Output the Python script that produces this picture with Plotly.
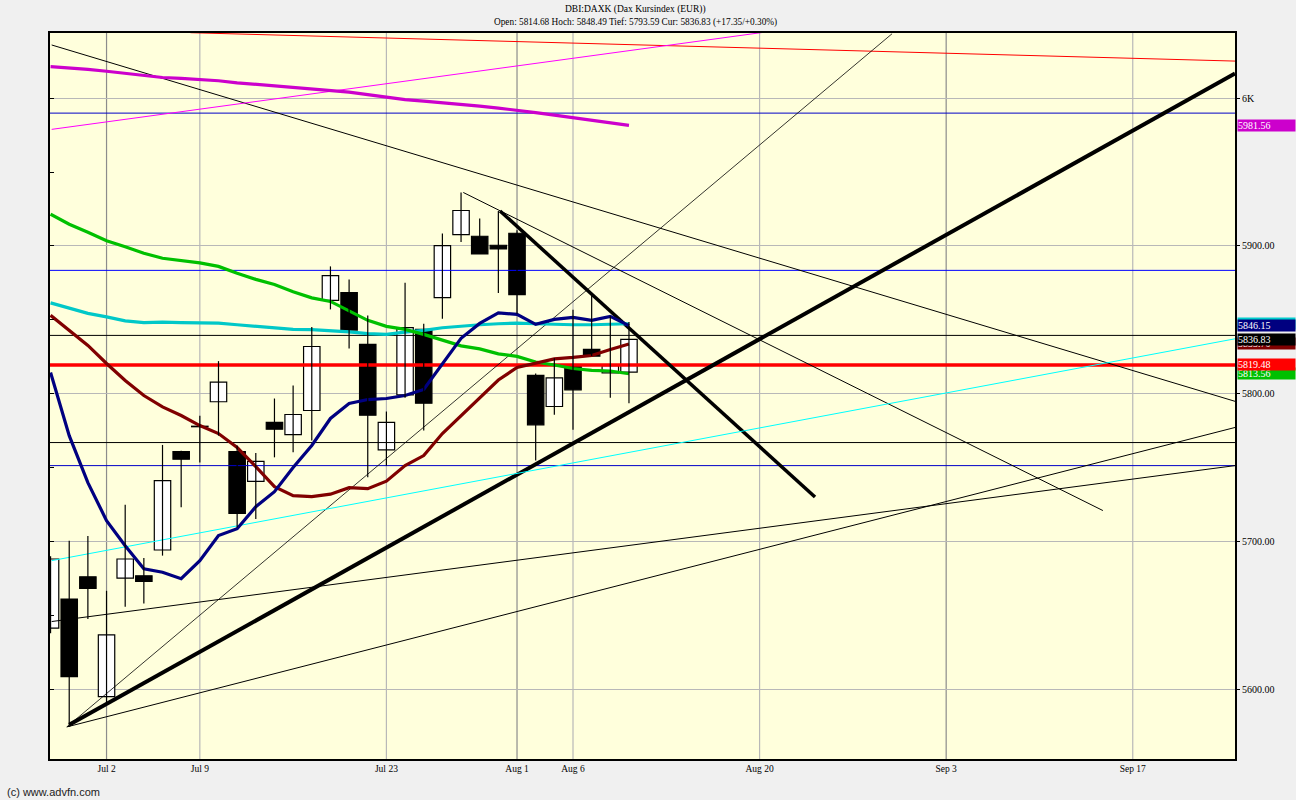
import plotly.graph_objects as go

# ---------------- data ----------------
# trading-day index relative to Jul 2 (index 0)
day_idx = list(range(-3, 29))
open_ = [5641.5, 5661.1, 5676.2, 5595.1, 5675.3, 5676.9, 5694.3, 5760.9, 5777.9, 5794.6,
         5760.9, 5740.8, 5780.6, 5772.4, 5788.7, 5863.2, 5868.4, 5833.4, 5762.1, 5799.3,
         5843.6, 5865.0, 5907.7, 5906.6, 5900.5, 5908.6, 5812.4, 5791.4, 5818.5, 5830.0,
         5814.2, 5814.68]
high_ = [5690.0, 5700.6, 5703.8, 5666.7, 5725.0, 5688.9, 5765.4, 5761.5, 5785.2, 5822.1,
         5765.0, 5760.0, 5796.8, 5805.6, 5845.1, 5886.2, 5877.4, 5853.0, 5788.0, 5875.2,
         5847.4, 5908.4, 5936.2, 5918.6, 5923.7, 5910.6, 5813.8, 5824.1, 5856.9, 5866.6,
         5852.4, 5848.49]
low_ = [5638.0, 5574.6, 5647.6, 5591.0, 5655.9, 5658.1, 5690.5, 5723.2, 5753.5, 5771.7,
        5709.6, 5715.3, 5757.0, 5760.4, 5768.4, 5857.1, 5830.7, 5743.5, 5751.4, 5797.3,
        5775.1, 5850.8, 5902.7, 5894.6, 5868.2, 5854.2, 5754.8, 5785.8, 5775.6, 5825.5,
        5797.3, 5793.59]
close_ = [5688.2, 5608.7, 5668.3, 5636.9, 5688.2, 5673.0, 5741.3, 5755.7, 5777.7, 5807.9,
          5719.1, 5754.3, 5776.0, 5786.0, 5832.0, 5879.9, 5843.1, 5785.5, 5780.6, 5844.7,
          5793.6, 5900.3, 5924.0, 5894.6, 5898.0, 5867.1, 5779.0, 5810.8, 5802.7, 5825.5,
          5819.0, 5836.83]

ma_navy = [5814.4, 5771.7, 5739.9, 5714.2, 5697.2, 5681.6, 5679.3, 5674.9, 5687.1, 5704.1,
           5708.7, 5723.6, 5733.8, 5750.1, 5765.0, 5783.3, 5793.4, 5796.1, 5796.8, 5798.8,
           5802.9, 5820.5, 5837.5, 5847.6, 5854.7, 5853.7, 5847.0, 5850.3, 5851.7, 5849.7,
           5852.4, 5846.15]
ma_darkred = [5853.1, 5842.9, 5832.7, 5820.5, 5809.0, 5798.8, 5791.1, 5785.3, 5778.5, 5773.1,
              5763.6, 5750.7, 5737.2, 5731.1, 5730.4, 5732.1, 5736.5, 5735.8, 5740.9, 5751.4,
              5758.2, 5773.1, 5785.3, 5797.5, 5809.3, 5817.8, 5820.5, 5823.6, 5824.6, 5825.9,
              5830.0, 5833.7]
ma_green = [5921.5, 5914.7, 5909.3, 5903.5, 5899.5, 5895.1, 5891.7, 5890.3, 5888.6, 5886.2,
            5881.5, 5877.4, 5874.0, 5869.0, 5864.9, 5862.5, 5855.8, 5849.7, 5845.6, 5843.6,
            5840.2, 5836.4, 5832.4, 5830.4, 5827.0, 5825.3, 5821.5, 5819.5, 5817.1, 5815.8,
            5815.4, 5813.56]
ma_cyan = [5861.5, 5857.8, 5854.4, 5852.0, 5849.3, 5848.1, 5848.5, 5848.1, 5847.8, 5847.8,
           5846.7, 5845.6, 5844.7, 5843.6, 5843.4, 5842.9, 5841.9, 5840.7, 5840.2, 5841.7,
           5842.9, 5844.7, 5845.8, 5846.7, 5847.4, 5847.8, 5847.4, 5846.9, 5846.7, 5846.7,
           5846.9, 5847.4]
ma_magenta = [6021.3, 6020.6, 6019.5, 6018.2, 6016.8, 6015.4, 6014.0, 6013.4, 6012.7, 6011.8,
              6010.4, 6009.3, 6008.2, 6007.3, 6006.4, 6005.3, 6004.1, 6002.4, 6000.7, 5999.0,
              5998.0, 5997.0, 5996.0, 5994.6, 5993.3, 5991.9, 5990.2, 5988.5, 5986.8, 5985.2,
              5983.5, 5981.56]

# horizontal levels
hlevel_values = [5989.9, 5883.5, 5839.5, 5767.0, 5751.4, 5819.48]
hlevel_colors = ["#0000C8", "#0000FF", "#000000", "#000000", "#0000C8", "#FF0000"]
hlevel_widths = [1, 1, 1, 1, 1, 3.5]

# drawn trend lines (start index, start price, end index, end price)
trend_x0 = [-2.94, 4.5, -2.94, -2.0, -2.13, -2.94, -2.13, 21.09, 19.12, -2.94]
trend_y0 = [6036.0, 6044.3, 5978.9, 5576.0, 5574.6, 5645.9, 5574.6, 5923.7, 5936.2, 5687.1]
trend_x1 = [60.48, 60.48, 35.29, 60.48, 42.1, 60.48, 60.48, 37.97, 53.4, 60.48]
trend_y1 = [5794.9, 6025.1, 6044.7, 6016.7, 6043.6, 5751.4, 5777.2, 5730.2, 5721.0, 5837.2]
trend_colors = ["#000000", "#FF0000", "#FF00FF", "#000000", "#000000", "#000000",
                "#000000", "#000000", "#000000", "#00FFFF"]
trend_widths = [1, 1, 1, 4, 0.8, 1, 1, 3.5, 1, 1]

# x axis ticks
tick_idx = [0, 5, 15, 22, 25, 35, 45, 55]
tick_text = ["Jul 2", "Jul 9", "Jul 23", "Aug 1", "Aug 6", "Aug 20", "Sep 3", "Sep 17"]
tick_month_start = [True, False, False, True, False, False, True, False]

y_tick_vals = [5600, 5700, 5800, 5900, 6000]
y_tick_text = ["5600.00", "5700.00", "5800.00", "5900.00", "6K"]
y_minor_vals = [5600, 5650, 5700, 5750, 5800, 5850, 5900, 5950, 6000]

# right-hand value tags: (value, text, colour) in drawing order
tag_values = [5847.4, 5846.15, 5833.7, 5836.83, 5813.56, 5819.48, 5981.56]
tag_texts = ["5847.40", "5846.15", "5833.70", "5836.83", "5813.56", "5819.48", "5981.56"]
tag_colors = ["#00CCCC", "#000080", "#800000", "#000000", "#00C000", "#FF0000", "#CC00CC"]

x_range = [-3.03, 60.48]
y_range = [5552.9, 6044.1]

SERIF = "Liberation Serif"

# ---------------- figure ----------------
fig = go.Figure()

for v, c, w in zip(hlevel_values, hlevel_colors, hlevel_widths):
    fig.add_trace(go.Scatter(x=x_range, y=[v, v], mode="lines",
                             line=dict(color=c, width=w), hoverinfo="skip", showlegend=False))

for x0, y0, x1, y1, c, w in zip(trend_x0, trend_y0, trend_x1, trend_y1, trend_colors, trend_widths):
    fig.add_trace(go.Scatter(x=[x0, x1], y=[y0, y1], mode="lines",
                             line=dict(color=c, width=w), hoverinfo="skip", showlegend=False))

for series, c in [(ma_magenta, "#CC00CC"), (ma_cyan, "#00C8C8"), (ma_green, "#00C000"),
                  (ma_darkred, "#800000"), (ma_navy, "#000080")]:
    fig.add_trace(go.Scatter(x=day_idx, y=series, mode="lines",
                             line=dict(color=c, width=3.2), hoverinfo="skip", showlegend=False))

# candle wicks
wx, wy = [], []
for d, h, l in zip(day_idx, high_, low_):
    wx += [d, d, None]
    wy += [l, h, None]
fig.add_trace(go.Scatter(x=wx, y=wy, mode="lines", line=dict(color="black", width=1.2),
                         hoverinfo="skip", showlegend=False))

# candle bodies
for up, fill in [(True, "white"), (False, "black")]:
    xs, bases, hs = [], [], []
    for d, o, c in zip(day_idx, open_, close_):
        if (c > o) == up:
            xs.append(d)
            bases.append(min(o, c))
            hs.append(max(abs(c - o), 0.35))
    fig.add_trace(go.Bar(x=xs, y=hs, base=bases, width=0.88,
                         marker=dict(color=fill, line=dict(color="black", width=1.2)),
                         hoverinfo="skip", showlegend=False))

# dummy trace for the left minor-tick axis
fig.add_trace(go.Scatter(x=[x_range[0]], y=[y_range[0]], yaxis="y2", mode="markers",
                         marker=dict(opacity=0), hoverinfo="skip", showlegend=False))

shapes = []
for t, ms in zip(tick_idx, tick_month_start):
    shapes.append(dict(type="line", xref="x", yref="paper", x0=t, x1=t, y0=0, y1=1,
                       line=dict(color="#8C8C8C" if ms else "#B8B8B8", width=1.2),
                       layer="below"))

annotations = [
    dict(text="DBI:DAXK (Dax Kursindex (EUR))", xref="paper", yref="paper",
         x=0.5, y=1, yshift=24, xanchor="center", yanchor="middle", showarrow=False,
         font=dict(family=SERIF, size=9.5, color="black"), xshift=-7),
    dict(text="Open: 5814.68 Hoch: 5848.49 Tief: 5793.59 Cur: 5836.83 (+17.35/+0.30%)",
         xref="paper", yref="paper", x=0.5, y=1, yshift=11, xanchor="center", yanchor="middle",
         showarrow=False, font=dict(family=SERIF, size=9.3, color="black"), xshift=-7),
    dict(text="(c) www.advfn.com", xref="paper", yref="paper", x=0, y=0, xshift=-45,
         yshift=-33, xanchor="left", yanchor="middle", showarrow=False,
         font=dict(family="Liberation Sans", size=11, color="#222222")),
]
for v, t, c in zip(tag_values, tag_texts, tag_colors):
    annotations.append(dict(text=t, xref="paper", yref="y", x=1, y=v, xshift=2,
                            xanchor="left", yanchor="middle", showarrow=False,
                            bgcolor=c, width=57, height=11, align="left", borderpad=0,
                            font=dict(family=SERIF, size=10, color="white")))

fig.update_layout(
    width=1296, height=800,
    margin=dict(l=50, r=61, t=33, b=41),
    paper_bgcolor="#F0F0F0", plot_bgcolor="#FFFFDC",
    barmode="overlay",
    shapes=shapes, annotations=annotations,
    xaxis=dict(range=x_range, tickvals=tick_idx, ticktext=tick_text, showgrid=False,
               showline=True, linecolor="black", linewidth=2,
               mirror=True, ticks="", zeroline=False,
               tickfont=dict(family=SERIF, size=9.5, color="black")),
    yaxis=dict(range=y_range, side="right", tickvals=y_tick_vals, ticktext=y_tick_text,
               showgrid=True, gridcolor="#B8B8B8", gridwidth=1, showline=True,
               linecolor="black", linewidth=2, mirror=True, ticks="outside", ticklen=3,
               tickcolor="black", zeroline=False,
               tickfont=dict(family=SERIF, size=10, color="black")),
    yaxis2=dict(range=y_range, overlaying="y", side="left", tickvals=y_minor_vals,
                ticks="inside", ticklen=4, tickcolor="black", showticklabels=False,
                showgrid=False, zeroline=False, showline=False),
)

fig.write_html("out.html", config={"displayModeBar": False},
               post_script="document.body.style.margin='0';")
